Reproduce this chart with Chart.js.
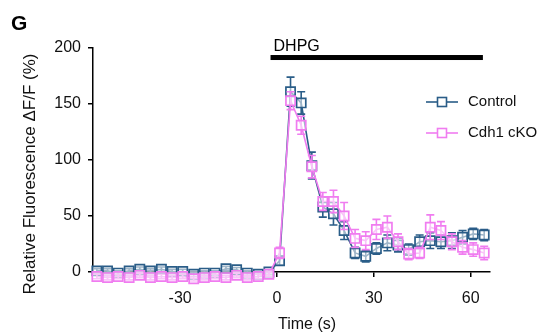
<!DOCTYPE html>
<html>
<head>
<meta charset="utf-8">
<script src="https://cdn.jsdelivr.net/npm/chart.js@4.4.1/dist/chart.umd.min.js"></script>
<style>
  html, body { margin: 0; padding: 0; background: #fff; }
</style>
</head>
<body>
<canvas id="fluoChart" width="552" height="333"></canvas>
<script>
// Time points (s), one frame every ~3.3 s
const times = [-55.8, -52.5, -49.2, -45.8, -42.5, -39.2, -35.8, -32.5, -29.2, -25.8,
               -22.5, -19.2, -15.8, -12.5, -9.2, -5.8, -2.5, 0.8, 4.2, 7.5,
               10.8, 14.2, 17.5, 20.8, 24.2, 27.5, 30.8, 34.2, 37.5, 40.8,
               44.2, 47.5, 50.8, 54.2, 57.5, 60.8, 64.2];

// Control: mean and SEM
const controlMean = [1, 1, -1, 1, 2.5, 1, 2.5, 0.5, 0.5, -2,
                     -1, -1, 3, 2, -1, -2, 0, 10, 161, 151,
                     95, 58, 52, 37, 17, 14, 21, 26, 24, 20,
                     27, 28, 27, 28, 31, 34, 33];
const controlErr = [2, 2, 2, 2, 2, 2, 2, 2, 2, 2,
                    2, 2, 2, 2, 2, 2, 2, 4, 13, 10,
                    12, 9, 10, 8, 5, 5, 5, 7, 6, 5,
                    6, 7, 6, 7, 6, 5, 5];

// Cdh1 cKO: mean and SEM
const ckoMean = [-4, -5, -4, -5, -3, -5, -4, -5, -4, -6,
                 -5, -4, -5, -3, -5, -4, -2, 17, 153, 131,
                 94, 63, 63, 50, 30, 28, 38, 40, 27, 16,
                 17, 40, 37, 27, 22, 20, 17];
const ckoErr = [2, 2, 2, 2, 2, 2, 2, 2, 2, 2,
                2, 2, 2, 2, 2, 2, 2, 5, 8, 8,
                10, 8, 10, 12, 8, 8, 9, 10, 7, 5,
                5, 11, 8, 7, 6, 6, 6];

const xTicks = [-30, 0, 30, 60];
const yTicks = [0, 50, 100, 150, 200];

// DHPG application window
const dhpgStart = -2;
const dhpgEnd = 63.8;
const dhpgLevel = 191.5;

const controlColor = '#2a5d88';
const ckoColor = '#f07cf0';
const fontFamily = '"Liberation Sans", Arial, sans-serif';

// Error bars drawn under each dataset
const errorBars = {
    id: 'errorBars',
    beforeDatasetDraw(chart, args) {
        const ds = chart.data.datasets[args.index];
        if (!ds.errors) return;
        const { ctx } = chart;
        const yScale = chart.scales.y;
        ctx.save();
        ctx.strokeStyle = ds.borderColor;
        ctx.lineWidth = 1.6;
        args.meta.data.forEach((pt, i) => {
            const v = ds.data[i].y;
            const e = ds.errors[i];
            const top = yScale.getPixelForValue(v + e);
            const bot = yScale.getPixelForValue(v - e);
            ctx.beginPath();
            ctx.moveTo(pt.x, top);
            ctx.lineTo(pt.x, bot);
            ctx.moveTo(pt.x - 4, top);
            ctx.lineTo(pt.x + 4, top);
            ctx.moveTo(pt.x - 4, bot);
            ctx.lineTo(pt.x + 4, bot);
            ctx.stroke();
        });
        ctx.restore();
    }
};

// Panel letter, stimulus bar, legend and axis titles
const annotations = {
    id: 'annotations',
    afterDraw(chart) {
        const { ctx, scales: { x, y } } = chart;
        ctx.save();
        ctx.fillStyle = '#000';

        // DHPG bar
        const x0 = x.getPixelForValue(dhpgStart);
        const x1 = x.getPixelForValue(dhpgEnd);
        ctx.fillRect(x0, y.getPixelForValue(dhpgLevel) - 2.5, x1 - x0, 5);
        ctx.font = '16px ' + fontFamily;
        ctx.textAlign = 'left';
        ctx.textBaseline = 'alphabetic';
        ctx.fillText('DHPG', x0 + 3, 51);

        // panel letter
        ctx.font = 'bold 21px ' + fontFamily;
        ctx.fillText('G', 11, 30);

        // axis titles
        ctx.font = '16px ' + fontFamily;
        ctx.textAlign = 'center';
        ctx.textBaseline = 'middle';
        ctx.fillStyle = '#111';
        ctx.fillText('Time (s)', 307, 325);
        ctx.save();
        ctx.translate(30, 174);
        ctx.rotate(-Math.PI / 2);
        ctx.font = '17px ' + fontFamily;
        ctx.fillText('Relative Fluorescence \u0394F/F (%)', 0, 0);
        ctx.restore();

        // legend
        const items = [
            { label: 'Control', color: controlColor, y: 102 },
            { label: 'Cdh1 cKO', color: ckoColor, y: 133 }
        ];
        ctx.font = '15px ' + fontFamily;
        ctx.textAlign = 'left';
        items.forEach(item => {
            ctx.strokeStyle = item.color;
            ctx.lineWidth = 1.6;
            ctx.beginPath();
            ctx.moveTo(426, item.y);
            ctx.lineTo(458, item.y);
            ctx.stroke();
            ctx.fillStyle = '#fff';
            ctx.fillRect(437.5, item.y - 4.5, 9, 9);
            ctx.strokeRect(437.5, item.y - 4.5, 9, 9);
            ctx.fillStyle = '#111';
            ctx.fillText(item.label, 468, item.y);
        });
        ctx.restore();
    }
};

function makeSeries(values) {
    return times.map((t, i) => ({ x: t, y: values[i] }));
}

function initializeChart() {
    const ctx = document.getElementById('fluoChart').getContext('2d');
    new Chart(ctx, {
        type: 'line',
        data: {
            datasets: [
                {
                    label: 'Control',
                    data: makeSeries(controlMean),
                    errors: controlErr,
                    borderColor: controlColor,
                    backgroundColor: 'rgba(255,255,255,0.55)',
                    borderWidth: 1.6,
                    pointStyle: 'rect',
                    pointRadius: 6.5,
                    pointBorderWidth: 1.7,
                    tension: 0,
                    clip: false,
                    order: 1
                },
                {
                    label: 'Cdh1 cKO',
                    data: makeSeries(ckoMean),
                    errors: ckoErr,
                    borderColor: ckoColor,
                    backgroundColor: 'rgba(255,255,255,0.55)',
                    borderWidth: 1.6,
                    pointStyle: 'rect',
                    pointRadius: 6.5,
                    pointBorderWidth: 1.7,
                    tension: 0,
                    clip: false,
                    order: 0
                }
            ]
        },
        options: {
            responsive: false,
            animation: false,
            layout: { padding: { left: 0, top: 48, right: 62, bottom: 0 } },
            plugins: {
                legend: { display: false },
                tooltip: { enabled: false }
            },
            scales: {
                x: {
                    type: 'linear',
                    min: -57,
                    max: 66,
                    afterFit: scale => { scale.height = 61; },
                    afterBuildTicks: scale => { scale.ticks = xTicks.map(v => ({ value: v })); },
                    border: { color: '#000', width: 1.5 },
                    grid: { drawOnChartArea: false, color: '#000', lineWidth: 1.5, tickLength: 5 },
                    ticks: { color: '#111', padding: 12, font: { family: fontFamily, size: 16 } }
                },
                y: {
                    min: 0,
                    max: 200,
                    afterFit: scale => { scale.width = 93; },
                    afterBuildTicks: scale => { scale.ticks = yTicks.map(v => ({ value: v })); },
                    border: { color: '#000', width: 1.5 },
                    grid: { drawOnChartArea: false, color: '#000', lineWidth: 1.5, tickLength: 5 },
                    ticks: { color: '#111', padding: 7, font: { family: fontFamily, size: 16 } }
                }
            }
        },
        plugins: [errorBars, annotations]
    });
}

document.addEventListener('DOMContentLoaded', () => {
    initializeChart();
});
</script>
</body>
</html>
